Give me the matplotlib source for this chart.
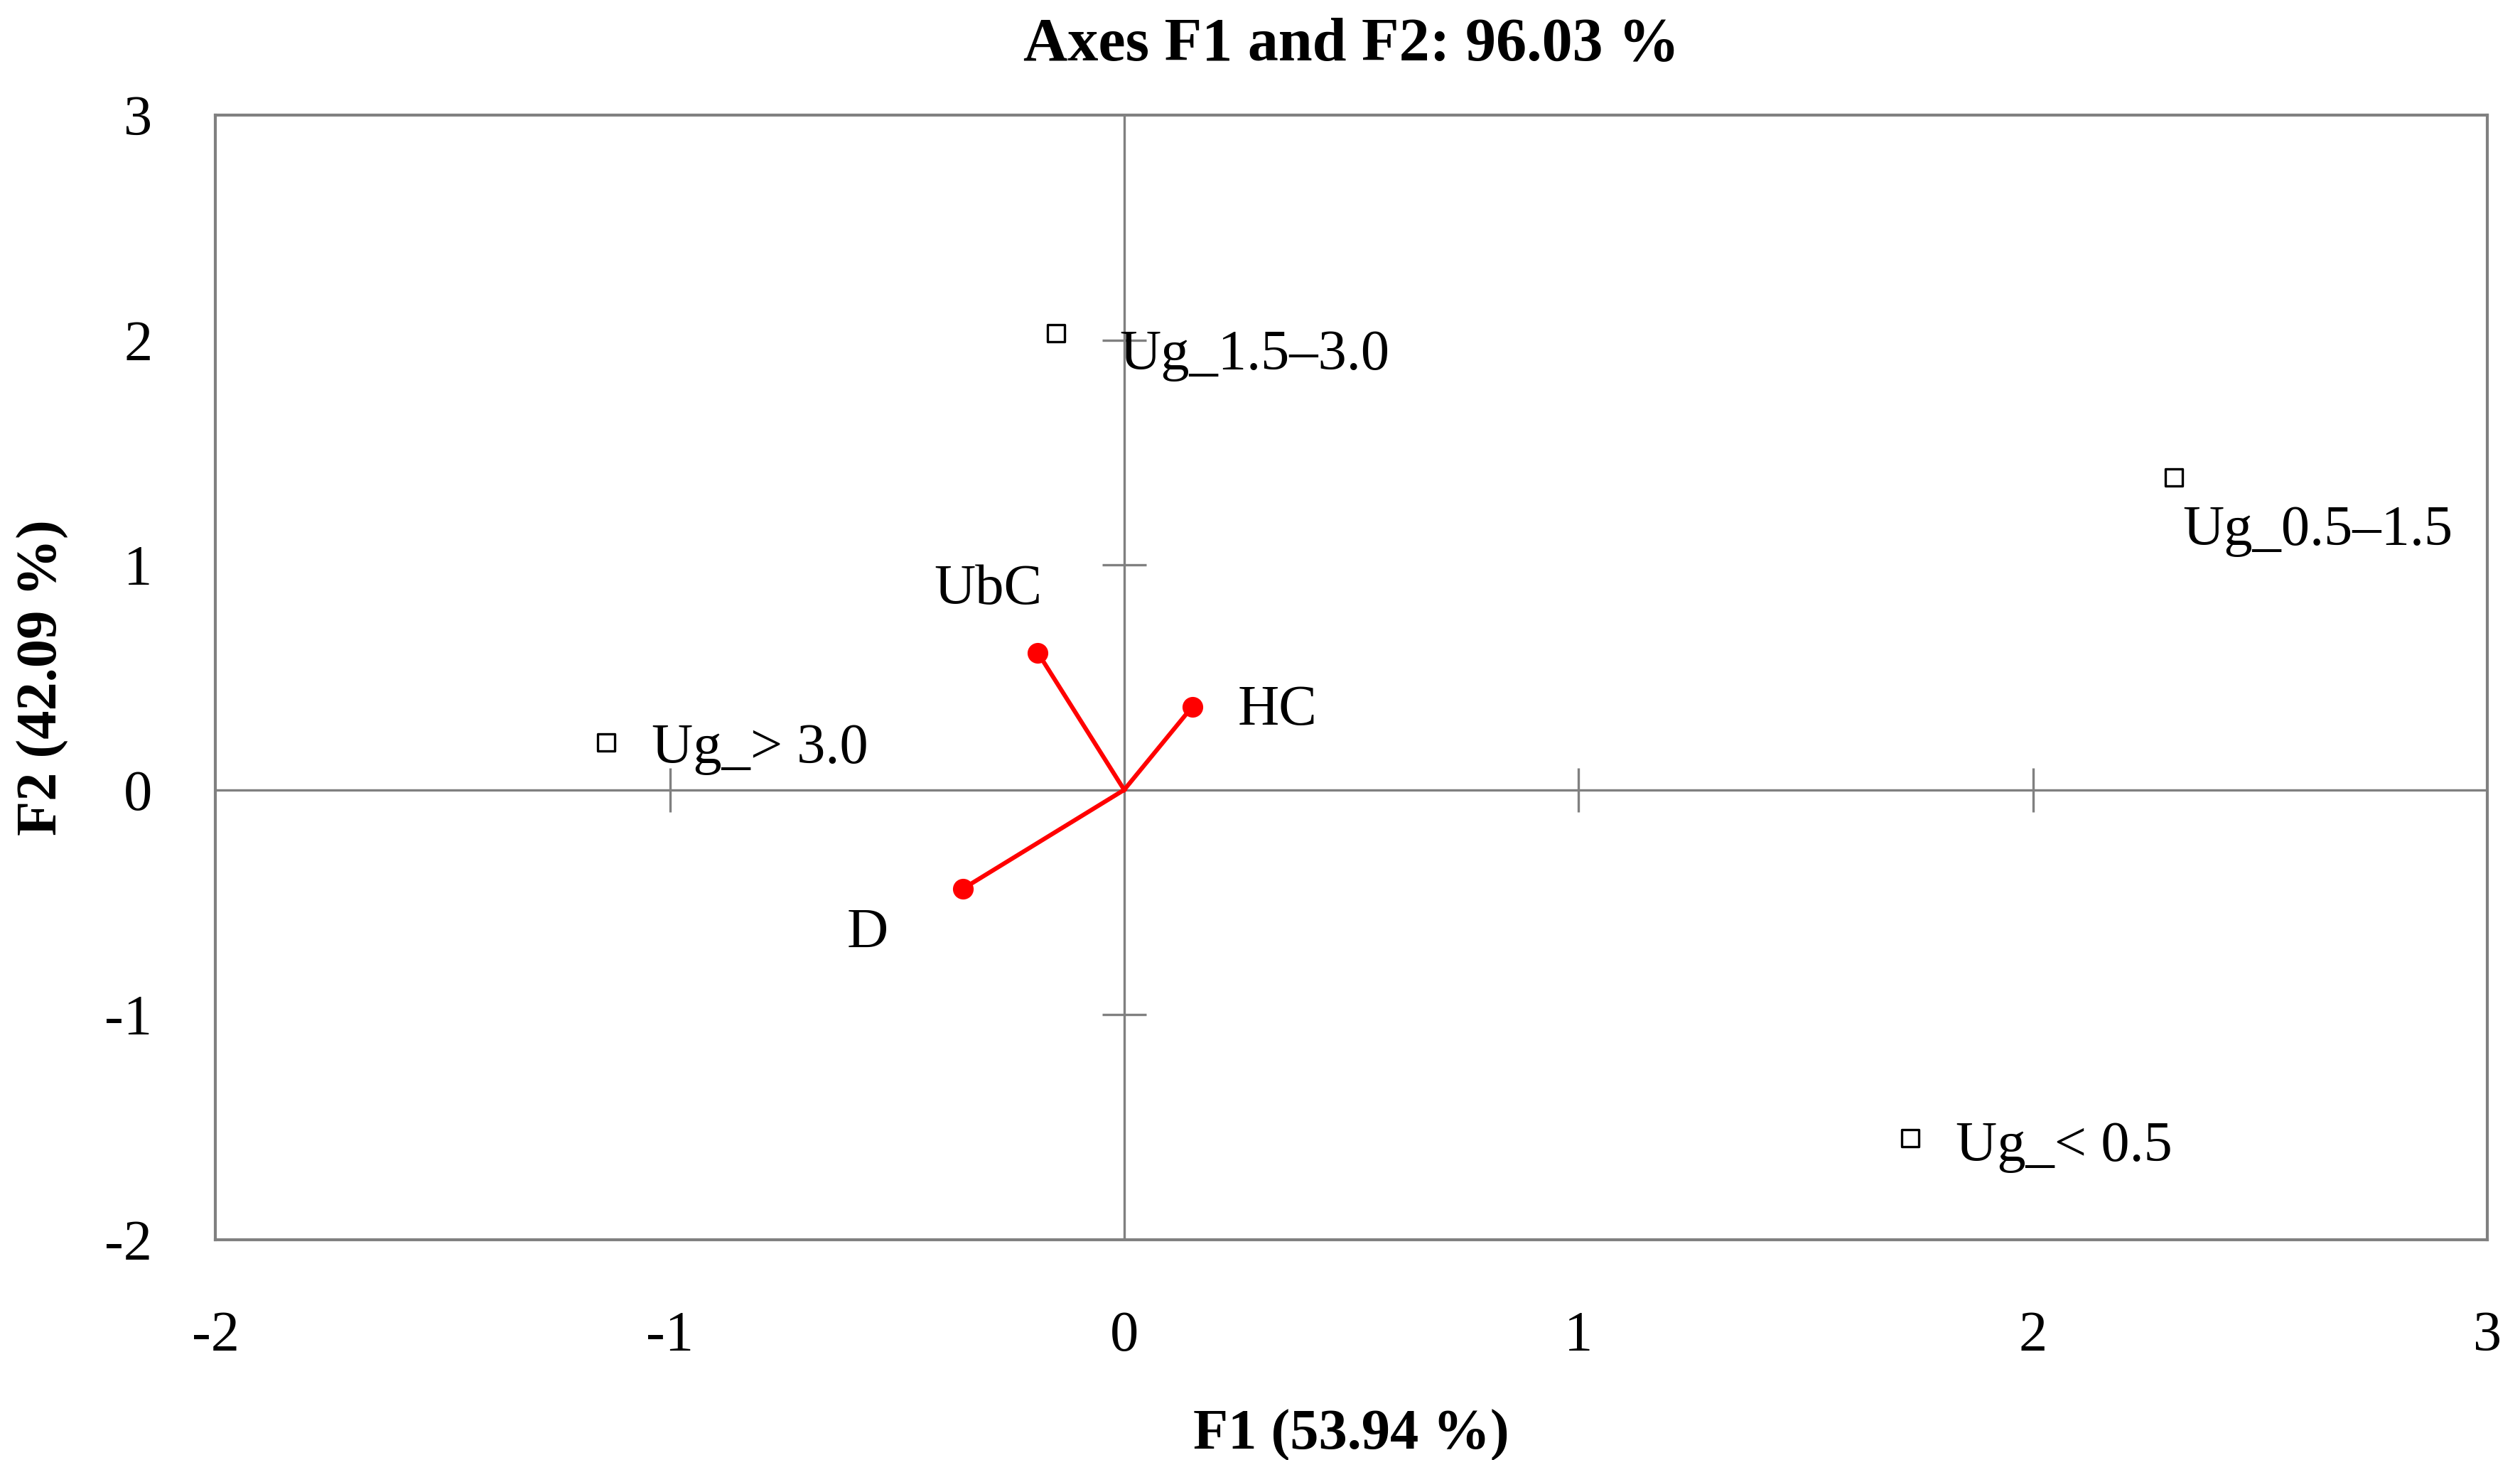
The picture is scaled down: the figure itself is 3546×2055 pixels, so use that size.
import matplotlib
matplotlib.use("Agg")
import matplotlib.pyplot as plt

plt.rcParams['font.family'] = ['Liberation Serif', 'DejaVu Serif']
plt.rcParams['axes.unicode_minus'] = False

# observations (squares)
obs_names = ['Ug_1.5–3.0', 'Ug_0.5–1.5', 'Ug_> 3.0', 'Ug_< 0.5']
obs_x = [-0.15, 2.31, -1.14, 1.73]
obs_y = [2.03, 1.39, 0.21, -1.55]

# variables (red vectors)
var_names = ['UbC', 'HC', 'D']
var_x = [-0.19, 0.15, -0.355]
var_y = [0.61, 0.37, -0.44]

fig = plt.figure(figsize=(17.73, 10.275), dpi=200)
ax = fig.add_axes([0.0855, 0.151, 0.9015, 0.770])
ax.set_xlim(-2, 3)
ax.set_ylim(-2, 3)

grey = '#808080'
ax.axhline(0, color=grey, lw=1.2, zorder=1)
ax.axvline(0, color=grey, lw=1.2, zorder=1)
# small tick crosses on the origin lines
ax.plot([-1, 1, 2], [0, 0, 0], ls='none', marker='|', ms=22, mew=1.2, color=grey)
ax.plot([0, 0, 0], [-1, 1, 2], ls='none', marker='_', ms=22, mew=1.2, color=grey)

for x, y in zip(var_x, var_y):
    ax.plot([0, x], [0, y], color='#ff0000', lw=2.2, zorder=3)
ax.scatter(var_x, var_y, s=90, color='#ff0000', zorder=4)

ax.scatter(obs_x, obs_y, s=80, marker='s', facecolor='white',
           edgecolor='black', linewidth=1.2, zorder=4)

fs = 29
obs_off = [(0.14, -0.10, 'left'), (0.02, -0.24, 'left'),
           (0.1, -0.03, 'left'), (0.1, -0.04, 'left')]
for n, x, y, (dx, dy, ha) in zip(obs_names, obs_x, obs_y, obs_off):
    ax.text(x + dx, y + dy, n, fontsize=fs, ha=ha, va='center')
var_off = [(-0.11, 0.28, 'center'), (0.1, -0.02, 'left'), (-0.21, -0.2, 'center')]
for n, x, y, (dx, dy, ha) in zip(var_names, var_x, var_y, var_off):
    ax.text(x + dx, y + dy, n, fontsize=fs, ha=ha, va='center')

ticks = [-2, -1, 0, 1, 2, 3]
ax.set_xticks(ticks)
ax.set_yticks(ticks)
ax.set_xticklabels([str(t) for t in ticks])
ax.set_yticklabels([str(t) for t in ticks])
ax.tick_params(axis='x', length=0, labelsize=fs, pad=36)
ax.tick_params(axis='y', length=0, labelsize=fs, pad=32)
for s in ax.spines.values():
    s.set_color(grey)
    s.set_linewidth(1.5)

ax.set_xlabel('F1 (53.94 %)', fontsize=fs, fontweight='bold', labelpad=24)
ax.set_ylabel('F2 (42.09 %)', fontsize=fs, fontweight='bold', labelpad=18)
ax.set_title('Axes F1 and F2: 96.03 %', fontsize=31, fontweight='bold', pad=28)

fig.savefig('out.png', dpi=200)
